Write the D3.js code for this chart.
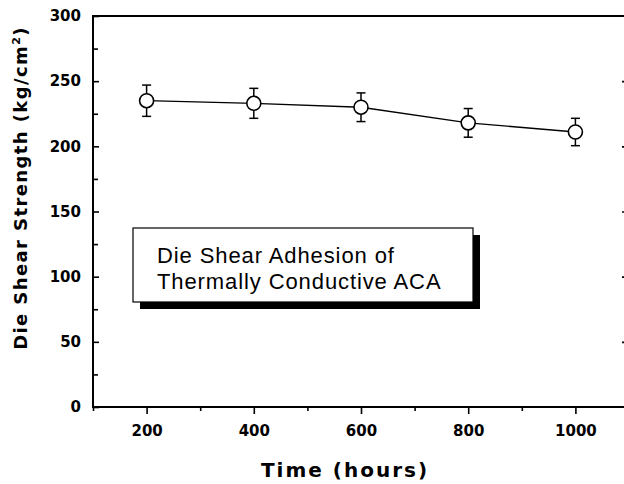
<!DOCTYPE html>
<html>
<head>
<meta charset="utf-8">
<script src="https://cdn.jsdelivr.net/npm/d3@7"></script>
<style>
  body { margin: 0; background: #fff; }
  svg { display: block; }
  .tick text { font-family: "DejaVu Sans", sans-serif; font-weight: bold; font-size: 15px; fill: #000; }
</style>
</head>
<body>
<svg width="624" height="484"></svg>
<script>
// data
let hours = [200, 400, 600, 800, 1000];
let strength = [235, 233, 230, 218, 211];
let errBar = [12, 11.5, 11, 11, 10.5];

let xMajor = [200, 400, 600, 800, 1000];
let xMinor = [100, 300, 500, 700, 900, 1100];
let yMajor = [0, 50, 100, 150, 200, 250, 300];
let yMinor = [25, 75, 125, 175, 225, 275];
let yRight = [50, 100, 150, 200, 250];

let boxLines = ["Die Shear Adhesion of", "Thermally Conductive ACA"];

let svg = d3.select("svg");

let x = d3.scaleLinear().domain([100, 1100]).range([93, 629]);
let y = d3.scaleLinear().domain([0, 300]).range([407, 16]);

let points = hours.map(function (h, i) {
    return { h: h, v: strength[i], e: errBar[i] };
});

// left axis, ticks pointing inward
svg.append("g")
    .attr("transform", "translate(93,0)")
    .call(d3.axisLeft(y).tickValues(yMajor).tickSize(-6).tickPadding(12).tickFormat(d3.format("d")))
    .call(g => g.select(".domain").remove());

svg.append("g")
    .attr("transform", "translate(93,0)")
    .call(d3.axisLeft(y).tickValues(yMinor).tickSize(-5).tickFormat(""))
    .call(g => g.select(".domain").remove());

// bottom axis, ticks pointing outward
svg.append("g")
    .attr("transform", "translate(0,407)")
    .call(d3.axisBottom(x).tickValues(xMajor).tickSize(7).tickPadding(11).tickFormat(d3.format("d")))
    .call(g => g.select(".domain").remove());

svg.append("g")
    .attr("transform", "translate(0,407)")
    .call(d3.axisBottom(x).tickValues(xMinor).tickSize(4).tickFormat(""))
    .call(g => g.select(".domain").remove());

// right axis (mostly off the page)
svg.append("g")
    .attr("transform", "translate(629,0)")
    .call(d3.axisRight(y).tickValues(yRight).tickSize(-7).tickFormat(""))
    .call(g => g.select(".domain").remove());

svg.selectAll(".tick line").attr("stroke", "#000").attr("stroke-width", 1.6);

// frame
let frame = svg.append("g").attr("stroke", "#000").attr("fill", "none");
frame.append("line").attr("x1", x(100)).attr("x2", x(1100)).attr("y1", y(300)).attr("y2", y(300)).attr("stroke-width", 2.2);
frame.append("line").attr("x1", x(100)).attr("x2", x(1100)).attr("y1", y(0)).attr("y2", y(0)).attr("stroke-width", 2);
frame.append("line").attr("x1", x(100)).attr("x2", x(100)).attr("y1", y(0) + 1).attr("y2", y(300) - 1).attr("stroke-width", 2);
frame.append("line").attr("x1", x(1100)).attr("x2", x(1100)).attr("y1", y(0)).attr("y2", y(300)).attr("stroke-width", 2);

// connecting line
svg.append("path")
    .datum(points)
    .attr("fill", "none")
    .attr("stroke", "#000")
    .attr("stroke-width", 1.3)
    .attr("d", d3.line().x(d => x(d.h)).y(d => y(d.v)));

// error bars
let eb = svg.append("g").attr("stroke", "#000").attr("stroke-width", 1.5);
eb.selectAll("line.bar")
    .data(points)
    .enter().append("line")
    .attr("class", "bar")
    .attr("x1", d => x(d.h)).attr("x2", d => x(d.h))
    .attr("y1", d => y(d.v + d.e)).attr("y2", d => y(d.v - d.e));
eb.selectAll("line.capTop")
    .data(points)
    .enter().append("line")
    .attr("class", "capTop")
    .attr("x1", d => x(d.h) - 4.5).attr("x2", d => x(d.h) + 4.5)
    .attr("y1", d => y(d.v + d.e)).attr("y2", d => y(d.v + d.e));
eb.selectAll("line.capBot")
    .data(points)
    .enter().append("line")
    .attr("class", "capBot")
    .attr("x1", d => x(d.h) - 4.5).attr("x2", d => x(d.h) + 4.5)
    .attr("y1", d => y(d.v - d.e)).attr("y2", d => y(d.v - d.e));

// markers
svg.append("g")
    .selectAll("circle")
    .data(points)
    .enter().append("circle")
    .attr("cx", d => x(d.h))
    .attr("cy", d => y(d.v))
    .attr("r", 7)
    .attr("fill", "#fff")
    .attr("stroke", "#000")
    .attr("stroke-width", 1.6);

// annotation box with drop shadow
let box = { x: 133, y: 228, w: 340, h: 74 };
svg.append("rect")
    .attr("x", box.x + 7).attr("y", box.y + 7)
    .attr("width", box.w).attr("height", box.h)
    .attr("fill", "#000");
svg.append("rect")
    .attr("x", box.x).attr("y", box.y)
    .attr("width", box.w).attr("height", box.h)
    .attr("fill", "#fff")
    .attr("stroke", "#000")
    .attr("stroke-width", 1.2);
svg.append("g")
    .selectAll("text")
    .data(boxLines)
    .enter().append("text")
    .attr("x", box.x + 24)
    .attr("y", (d, i) => box.y + 35 + i * 26)
    .attr("font-family", "'Liberation Sans', Arial, sans-serif")
    .attr("font-size", 22)
    .attr("letter-spacing", 0.9)
    .attr("fill", "#000")
    .text(d => d);

// axis titles
svg.append("text")
    .attr("x", 345)
    .attr("y", 477)
    .attr("text-anchor", "middle")
    .attr("font-family", "'DejaVu Sans', sans-serif")
    .attr("font-weight", "bold")
    .attr("font-size", 20)
    .attr("letter-spacing", 2)
    .text("Time (hours)");

let yt = svg.append("text")
    .attr("transform", "translate(27,188) rotate(-90)")
    .attr("text-anchor", "middle")
    .attr("font-family", "'DejaVu Sans', sans-serif")
    .attr("font-weight", "bold")
    .attr("font-size", 18)
    .attr("letter-spacing", 1.4);
yt.append("tspan").text("Die Shear Strength (kg/cm");
yt.append("tspan").attr("dy", -7).attr("font-size", 11).text("2");
yt.append("tspan").attr("dy", 7).text(")");
</script>
</body>
</html>
